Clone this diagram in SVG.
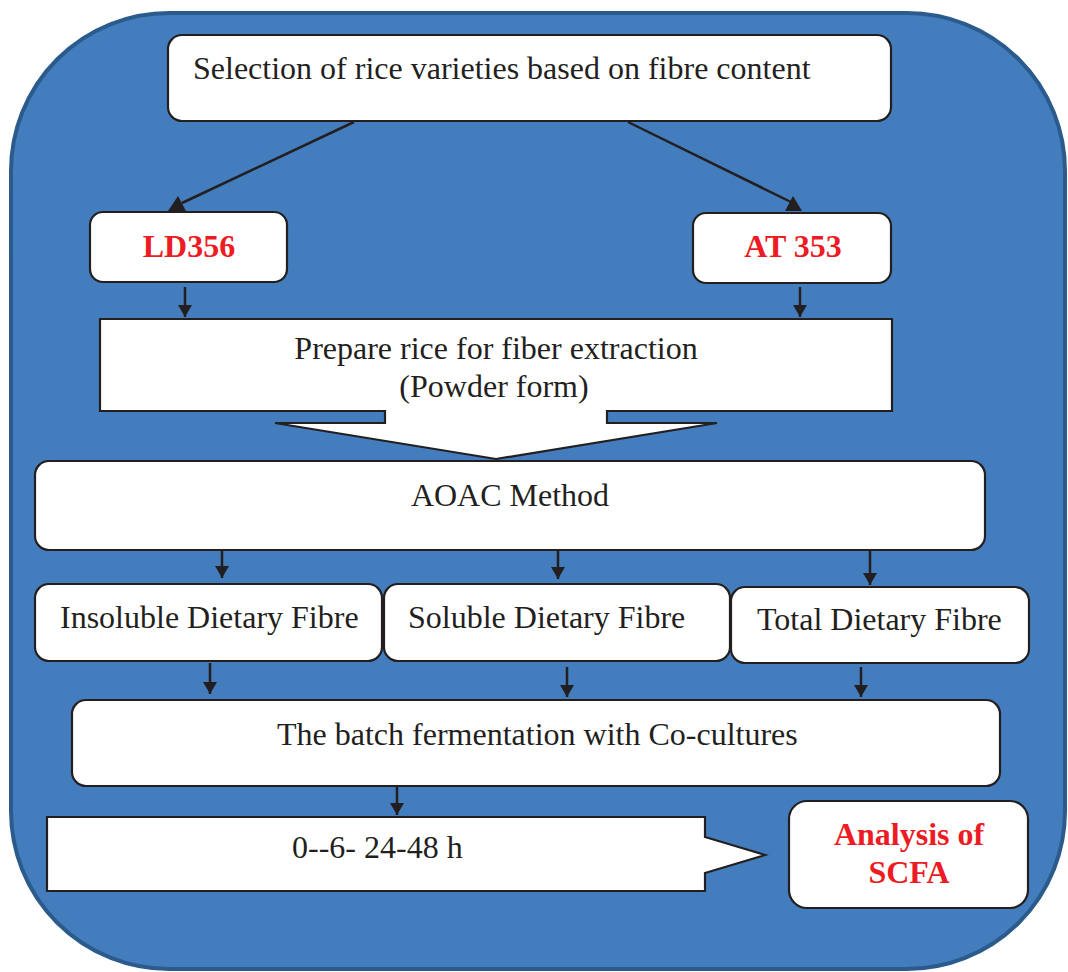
<svg xmlns="http://www.w3.org/2000/svg" width="1068" height="972" viewBox="0 0 1068 972">
<defs>
<style>
.box{fill:#ffffff;stroke:#231f20;stroke-width:2.2}
.t{font-family:"Liberation Serif","Times New Roman",serif;font-size:32px;fill:#231f20}
.r{font-family:"Liberation Serif","Times New Roman",serif;font-size:32px;font-weight:bold;fill:#ed1c24}
.c{text-anchor:middle}
.ln{stroke:#231f20;stroke-width:2.5;fill:none}
.ah{fill:#231f20}
</style>
<marker id="arr" viewBox="0 0 12 14" refX="12" refY="7" markerWidth="12" markerHeight="14" orient="auto" markerUnits="userSpaceOnUse">
<path d="M0,0 L12,7 L0,14 Z" fill="#231f20"/>
</marker>
</defs>
<rect x="0" y="0" width="1068" height="972" fill="#ffffff"/>
<rect id="background" x="11" y="13" width="1054" height="956" rx="158" ry="158" fill="#437dbd" stroke="#2b5b8c" stroke-width="4"/>

<g id="connectors">
<line class="ln" x1="354" y1="122" x2="182" y2="203"/>
<polygon class="ah" points="168,211 186,211 178,196"/>
<line class="ln" x1="628" y1="122" x2="793" y2="203"/>
<polygon class="ah" points="785,211 802,211 793,196"/>
<line class="ln" x1="185" y1="287" x2="185" y2="317" marker-end="url(#arr)"/>
<line class="ln" x1="800" y1="287" x2="800" y2="317" marker-end="url(#arr)"/>
<line class="ln" x1="222" y1="551" x2="222" y2="578" marker-end="url(#arr)"/>
<line class="ln" x1="558" y1="551" x2="558" y2="579" marker-end="url(#arr)"/>
<line class="ln" x1="870" y1="551" x2="870" y2="585" marker-end="url(#arr)"/>
<line class="ln" x1="210" y1="663" x2="210" y2="694" marker-end="url(#arr)"/>
<line class="ln" x1="567" y1="667" x2="567" y2="697" marker-end="url(#arr)"/>
<line class="ln" x1="861" y1="667" x2="861" y2="697" marker-end="url(#arr)"/>
<line class="ln" x1="397" y1="787" x2="397" y2="815" marker-end="url(#arr)"/>
</g>

<g id="selection">
<rect class="box" x="168" y="35" width="723" height="86" rx="14"/>
<text class="t" x="193" y="79">Selection of rice varieties based on fibre content</text>
</g>
<g id="ld356">
<rect class="box" x="90" y="212" width="197" height="70" rx="13"/>
<text class="r c" x="189" y="257">LD356</text>
</g>
<g id="at353">
<rect class="box" x="693" y="213" width="198" height="70" rx="13"/>
<text class="r c" x="793" y="257">AT 353</text>
</g>
<g id="prepare">
<path class="box" d="M100,319 H892 V411 H607 V423 H717 L496,459 L275,423 H385 V411 H100 Z"/>
<text class="t c" x="496" y="359">Prepare rice for fiber extraction</text>
<text class="t c" x="494" y="397">(Powder form)</text>
</g>
<g id="aoac">
<rect class="box" x="35" y="461" width="950" height="89" rx="14"/>
<text class="t c" x="510" y="506">AOAC Method</text>
</g>
<g id="insoluble">
<rect class="box" x="35" y="584" width="347" height="77" rx="14"/>
<text class="t" x="60" y="628">Insoluble Dietary Fibre</text>
</g>
<g id="soluble">
<rect class="box" x="384" y="584" width="346" height="77" rx="14"/>
<text class="t" x="408" y="628">Soluble Dietary Fibre</text>
</g>
<g id="total">
<rect class="box" x="731" y="587" width="298" height="76" rx="14"/>
<text class="t" x="757" y="630">Total Dietary Fibre</text>
</g>
<g id="batch">
<rect class="box" x="72" y="700" width="928" height="86" rx="14"/>
<text class="t" x="277" y="745">The batch fermentation with Co-cultures</text>
</g>
<g id="time">
<path class="box" d="M47,817 H705 V837 L765,855 L705,873 V891 H47 Z"/>
<text class="t" x="292" y="858">0--6- 24-48 h</text>
</g>
<g id="scfa">
<rect class="box" x="789" y="801" width="239" height="107" rx="18"/>
<text class="r c" x="909" y="845">Analysis of</text>
<text class="r c" x="909" y="883">SCFA</text>
</g>
</svg>
